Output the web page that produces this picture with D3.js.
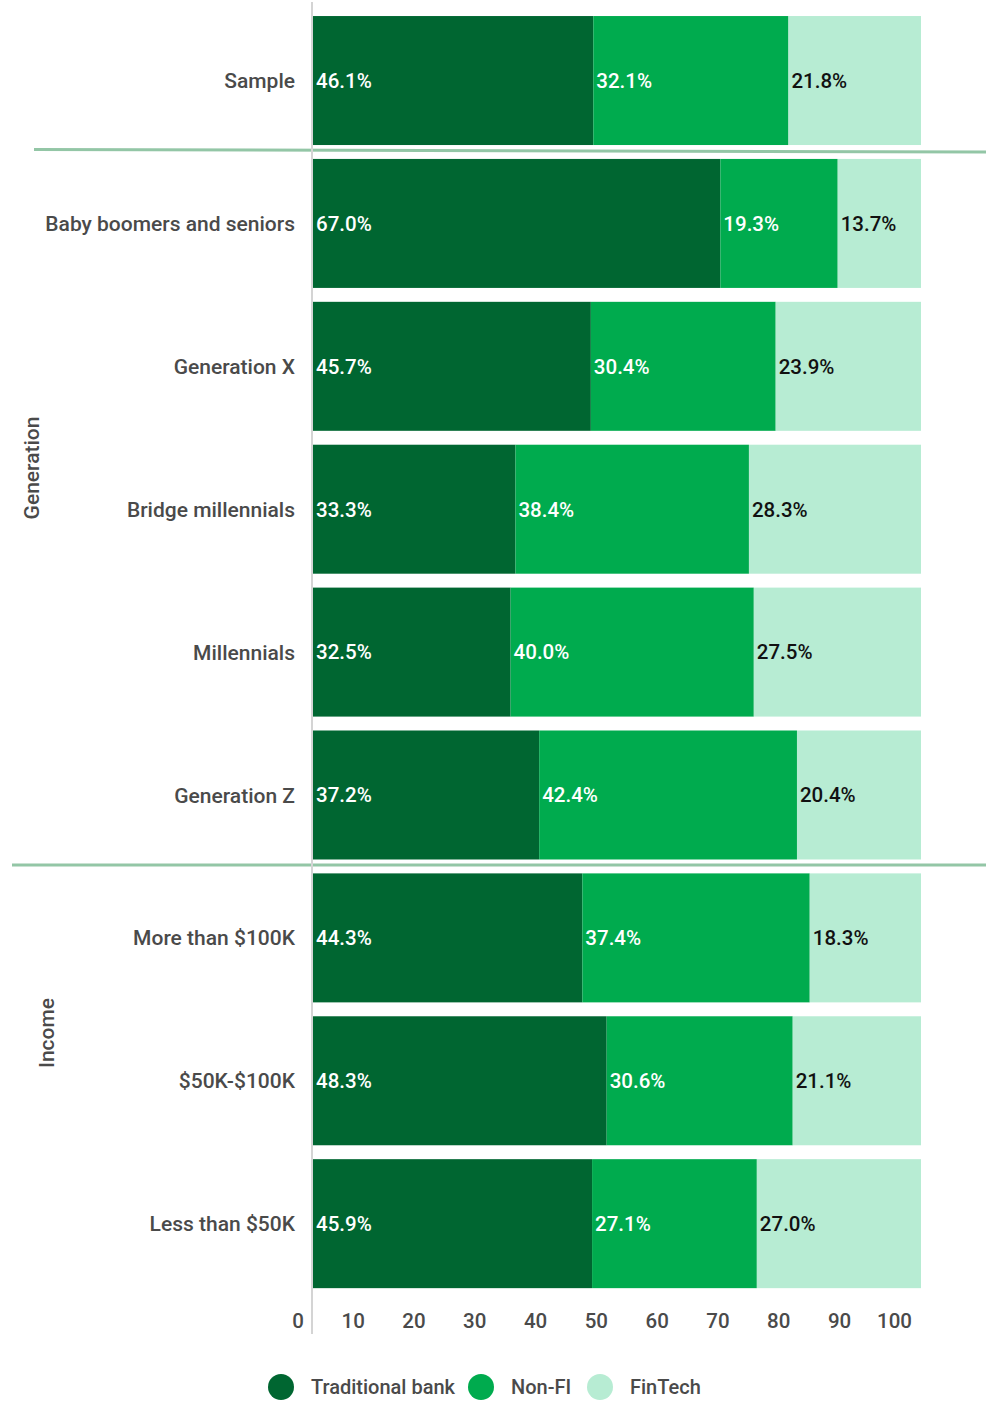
<!DOCTYPE html>
<html>
<head>
<meta charset="utf-8">
<script src="https://cdn.jsdelivr.net/npm/d3@7"></script>
<style>
  html, body { margin: 0; padding: 0; background: #fff; }
  svg { display: block; font-family: Roboto, "Noto Sans", sans-serif; }
</style>
</head>
<body>
<svg id="chart" width="986" height="1402"></svg>
<script>
// Share of respondents by primary provider, per segment
const categories = [
  "Sample",
  "Baby boomers and seniors",
  "Generation X",
  "Bridge millennials",
  "Millennials",
  "Generation Z",
  "More than $100K",
  "$50K-$100K",
  "Less than $50K"
];
const seriesNames = ["Traditional bank", "Non-FI", "FinTech"];
const traditionalBank = [46.1, 67.0, 45.7, 33.3, 32.5, 37.2, 44.3, 48.3, 45.9];
const nonFI           = [32.1, 19.3, 30.4, 38.4, 40.0, 42.4, 37.4, 30.6, 27.1];
const finTech         = [21.8, 13.7, 23.9, 28.3, 27.5, 20.4, 18.3, 21.1, 27.0];
const xTicks = [0, 10, 20, 30, 40, 50, 60, 70, 80, 90, 100];
const groupNames = ["Generation", "Income"];

const colors = ["#006631", "#00ab4e", "#b7ecd3"];
const labelColors = ["#ffffff", "#ffffff", "#111111"];
const textColor = "#4a4a4a";

const rows = categories.map((c, i) => ({
  category: c,
  "Traditional bank": traditionalBank[i],
  "Non-FI": nonFI[i],
  "FinTech": finTech[i]
}));
const stacked = d3.stack().keys(seriesNames)(rows);

const svg = d3.select("#chart");
const plotLeft = 313, plotRight = 921, plotTop = 8.9, plotBottom = 1295.3;

const x = d3.scaleLinear().domain([0, 100]).range([plotLeft, plotRight]);
const y = d3.scaleBand().domain(categories).range([plotTop, plotBottom])
  .paddingInner(0.0973).paddingOuter(0.05);

// group separator lines
svg.append("line")
  .attr("x1", 34).attr("x2", 986)
  .attr("y1", 149.5).attr("y2", 152)
  .attr("stroke", "#93c6a6").attr("stroke-width", 3);
svg.append("line")
  .attr("x1", 12).attr("x2", 986)
  .attr("y1", 865).attr("y2", 865)
  .attr("stroke", "#93c6a6").attr("stroke-width", 3);

// vertical axis line
svg.append("line")
  .attr("x1", 312).attr("x2", 312)
  .attr("y1", 2).attr("y2", 1334)
  .attr("stroke", "#d4d4d4").attr("stroke-width", 2);

// stacked segments
const layer = svg.append("g").selectAll("g")
  .data(stacked)
  .join("g")
  .attr("fill", (d, i) => colors[i]);

layer.selectAll("rect")
  .data(d => d)
  .join("rect")
  .attr("x", d => x(d[0]))
  .attr("y", d => y(d.data.category))
  .attr("width", d => x(d[1]) - x(d[0]))
  .attr("height", y.bandwidth());

// value labels at the start of each segment
stacked.forEach((s, si) => {
  svg.append("g").selectAll("text")
    .data(s)
    .join("text")
    .attr("x", d => x(d[0]) + 3)
    .attr("y", d => y(d.data.category) + y.bandwidth() / 2)
    .attr("dy", "0.36em")
    .attr("fill", labelColors[si])
    .attr("font-size", 20.5)
    .attr("font-weight", 500)
    .text(d => d.data[s.key].toFixed(1) + "%");
});

// category labels
svg.append("g").selectAll("text")
  .data(categories)
  .join("text")
  .attr("x", 295)
  .attr("y", d => y(d) + y.bandwidth() / 2)
  .attr("dy", "0.36em")
  .attr("text-anchor", "end")
  .attr("fill", textColor)
  .attr("font-size", 21)
  .attr("font-weight", 500)
  .text(d => d);

// group labels, rotated
const groupPos = [[31, 468], [46, 1033]];
svg.append("g").selectAll("text")
  .data(groupNames)
  .join("text")
  .attr("transform", (g, i) => `translate(${groupPos[i][0]},${groupPos[i][1]}) rotate(-90)`)
  .attr("dy", "0.36em")
  .attr("text-anchor", "middle")
  .attr("fill", textColor)
  .attr("font-size", 21)
  .attr("font-weight", 500)
  .text(g => g);

// x tick labels
svg.append("g").selectAll("text")
  .data(xTicks)
  .join("text")
  .attr("x", d => x(d) - 9)
  .attr("y", 1321)
  .attr("dy", "0.36em")
  .attr("text-anchor", "end")
  .attr("fill", textColor)
  .attr("font-size", 20.5)
  .attr("font-weight", 500)
  .text(d => d);

// legend
const legendX = [281, 481, 600];
const legend = svg.append("g").selectAll("g")
  .data(seriesNames)
  .join("g")
  .attr("transform", (d, i) => `translate(${legendX[i]},1387)`);
legend.append("circle")
  .attr("r", 13)
  .attr("fill", (d, i) => colors[i]);
legend.append("text")
  .attr("x", 30)
  .attr("dy", "0.36em")
  .attr("fill", textColor)
  .attr("font-size", 20)
  .attr("font-weight", 500)
  .text(d => d);
</script>
</body>
</html>
